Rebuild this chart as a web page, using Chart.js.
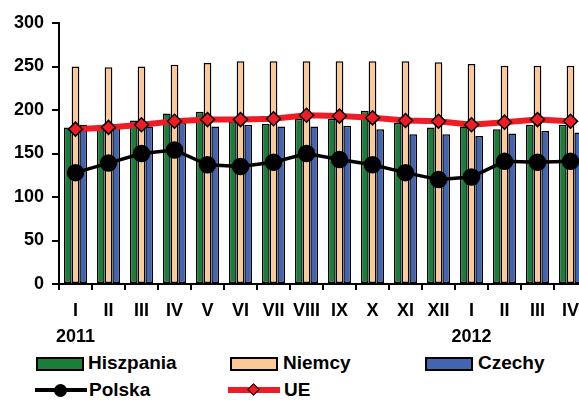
<!DOCTYPE html>
<html>
<head>
<meta charset="utf-8">
<script src="https://cdn.jsdelivr.net/npm/chart.js@4"></script>
<style>
  html, body { margin: 0; padding: 0; background: #fff; overflow: hidden; }
  #wrap { position: absolute; left: 0; top: 0; width: 610px; height: 350px; }
  .lg { position: absolute; font: bold 19px "Liberation Sans", Arial, sans-serif; color: #000; line-height: 20px; }
  .sw { position: absolute; width: 44px; height: 10px; border: 2px solid #000; }
  .ln { position: absolute; width: 52px; }
</style>
</head>
<body>
<div id="wrap"><canvas id="chart" width="610" height="350"></canvas></div>

<div class="sw" style="left:36px;top:357px;background:#1B7D3A"></div>
<div class="lg" style="left:88px;top:353px">Hiszpania</div>
<div class="sw" style="left:230px;top:357px;background:#FAC995"></div>
<div class="lg" style="left:283px;top:353px">Niemcy</div>
<div class="sw" style="left:425px;top:357px;background:#4364B1"></div>
<div class="lg" style="left:478px;top:353px">Czechy</div>

<div class="ln" style="left:35px;top:388px;height:4px;background:#000"></div>
<div style="position:absolute;left:54px;top:384px;width:13px;height:13px;border-radius:50%;background:#000"></div>
<div class="lg" style="left:89px;top:380px">Polska</div>
<div class="ln" style="left:228px;top:387px;height:6px;background:#EE1C25"></div>
<div style="position:absolute;left:249px;top:385px;width:7px;height:7px;background:#EE1C25;border:1.5px solid #000;transform:rotate(45deg)"></div>
<div class="lg" style="left:284px;top:380px">UE</div>

<script>
// months Jan 2011 - Apr 2012
const months = ['I', 'II', 'III', 'IV', 'V', 'VI', 'VII', 'VIII', 'IX', 'X', 'XI', 'XII', 'I', 'II', 'III', 'IV'];
const years = { 0: '2011', 12: '2012' };

const hiszpania = [180, 183, 188, 196, 198, 187, 184, 190, 190, 199, 185, 180, 181, 178, 183, 183];
const niemcy = [250, 249, 250, 252, 254, 256, 256, 256, 256, 256, 256, 255, 253, 251, 251, 251];
const czechy = [183, 182, 181, 185, 181, 183, 181, 181, 182, 178, 172, 172, 170, 173, 176, 174];
const polska = [128, 139, 150, 154, 137, 135, 140, 150, 143, 137, 128, 120, 123, 141, 140, 141];
const ue = [178, 180, 183, 187, 189, 189, 190, 194, 193, 191, 188, 187, 183, 186, 189, 187];

const yTicks = [0, 50, 100, 150, 200, 250, 300];

const labels = months.map((m, i) => years[i] ? [m, years[i]] : m);
const font = { family: '"Liberation Sans", Arial, sans-serif', weight: 'bold', size: 18 };

const bar = (label, data, color) => ({
    type: 'bar',
    label: label,
    data: data,
    backgroundColor: color,
    borderColor: '#000',
    borderWidth: 1.5,
    borderSkipped: false,
    categoryPercentage: 0.7,
    barPercentage: 1,
    order: 3
});

new Chart(document.getElementById('chart'), {
    data: {
        labels: labels,
        datasets: [
            {
                type: 'line',
                label: 'UE',
                data: ue,
                borderColor: '#EE1C25',
                borderWidth: 6,
                pointStyle: 'rectRot',
                pointRadius: 7,
                pointBackgroundColor: '#EE1C25',
                pointBorderColor: '#000',
                pointBorderWidth: 1.5,
                tension: 0,
                order: 1
            },
            {
                type: 'line',
                label: 'Polska',
                data: polska,
                borderColor: '#000',
                borderWidth: 3.5,
                pointStyle: 'circle',
                pointRadius: 7,
                pointBackgroundColor: '#000',
                pointBorderColor: '#000',
                tension: 0,
                order: 2
            },
            bar('Hiszpania', hiszpania, '#1B7D3A'),
            bar('Niemcy', niemcy, '#FAC995'),
            bar('Czechy', czechy, '#4364B1')
        ]
    },
    options: {
        responsive: false,
        animation: false,
        layout: { padding: { top: 23, right: 23, left: 0, bottom: 0 } },
        plugins: { legend: { display: false }, tooltip: { enabled: false } },
        scales: {
            x: {
                grid: { offset: true, drawOnChartArea: false, tickLength: 6, color: '#000', lineWidth: 2 },
                border: { color: '#000', width: 2 },
                ticks: { color: '#000', font: { ...font, lineHeight: 1.45 }, padding: 8, maxRotation: 0, autoSkip: false },
                afterFit: (s) => { s.height = 66; }
            },
            y: {
                min: 0,
                max: 300,
                afterBuildTicks: (s) => { s.ticks = yTicks.map(v => ({ value: v })); },
                grid: { drawOnChartArea: false, tickLength: 7, color: '#000', lineWidth: 2 },
                border: { color: '#000', width: 2 },
                ticks: { color: '#000', font: font, padding: 8 },
                afterFit: (s) => { s.width = 59; }
            }
        }
    }
});
</script>
</body>
</html>
